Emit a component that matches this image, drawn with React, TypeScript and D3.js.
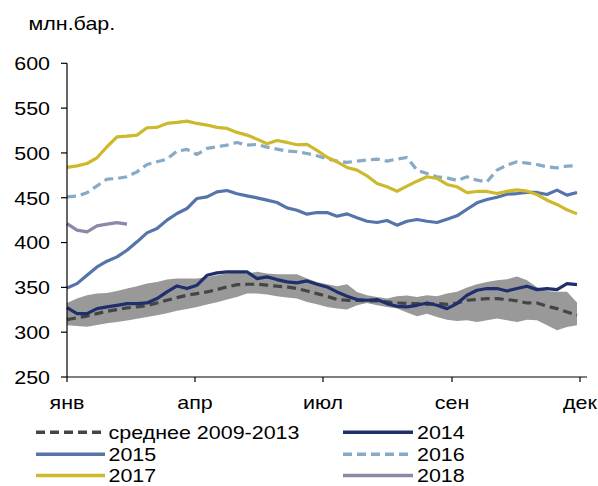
import React from "react";
import * as d3 from "d3";

const avg0913 = [314, 316, 318, 320.7, 323.3, 325.2, 327.1, 328.2, 329.7, 332.6, 335.6, 338.6, 341.2, 343.1, 344.9, 347.5, 350.5, 353, 353.5, 353.5, 352.5, 351.3, 350.5, 348.7, 346, 343, 340, 336.5, 335.6, 335.6, 335, 335, 333.8, 332.6, 332, 332, 331, 332, 331, 332.6, 335.6, 336.4, 337.5, 337.5, 336.4, 335, 332.6, 332.6, 329, 326.3, 322.6, 319];
const bandUpper = [332.6, 337.5, 341.2, 343.1, 343.8, 346.0, 348.7, 351.3, 354.2, 356.1, 358.7, 359.8, 359.8, 359.8, 361.7, 363.5, 365.4, 367.3, 365.4, 367.3, 365.4, 364.7, 364.7, 364.7, 359.8, 356.1, 353.5, 351.3, 353.5, 344.9, 341.2, 339.3, 337.5, 340.1, 341, 339.3, 341.2, 340.1, 343.1, 345.0, 349.8, 353.5, 356.1, 358.0, 359, 362, 358, 350, 346, 345, 345, 333];
const bandLower = [307.7, 307, 306, 308, 310, 311.5, 313, 315, 317, 319, 321, 324, 326, 328, 331, 333.5, 336.4, 339.3, 343.1, 343.1, 342, 340.1, 338.6, 337.5, 333.8, 331.2, 328.2, 326.3, 325.2, 330, 332.6, 330, 328.2, 326.3, 322, 317.8, 320.7, 317, 314, 312.5, 313.3, 311.4, 313.3, 315.2, 313.3, 311.4, 314, 313.3, 307.7, 302.1, 305.8, 307.7];
const s2014 = [327.4, 320.7, 320.7, 326.3, 328.2, 330.0, 331.9, 331.9, 332.6, 337.5, 344.9, 351.6, 348.7, 352.4, 363.5, 366.2, 367.3, 367.3, 367.3, 359.8, 361.7, 358.7, 356.1, 355.0, 357.2, 353.5, 350.5, 344.9, 340.1, 336.4, 335.6, 336.4, 331.9, 328.9, 328.2, 330.0, 332.6, 330.0, 326.3, 331.9, 341.2, 346.8, 348.7, 348.7, 346.0, 348.7, 351.3, 347.5, 348.7, 347.5, 354.2, 353.1];
const s2015 = [349.4, 354.2, 363.5, 372.8, 379.2, 384.0, 391.4, 400.8, 410.8, 415.6, 425.0, 432.4, 438.0, 449.2, 451.0, 456.6, 458.1, 454.4, 452.1, 449.9, 447.3, 444.7, 438.7, 436.1, 431.7, 433.5, 433.5, 429.4, 432.0, 427.6, 423.8, 422.4, 424.6, 419.4, 423.8, 425.7, 423.8, 422.4, 426.1, 429.8, 437.2, 444.3, 448.0, 450.6, 454.0, 454.7, 455.9, 455.9, 453.6, 458.5, 452.9, 455.9];
const s2016 = [451.0, 451.8, 455.5, 463.3, 470.7, 471.5, 473.4, 478.9, 487.1, 490.1, 493.1, 502.0, 503.9, 498.3, 505.0, 506.9, 508.7, 511.7, 508.7, 509.5, 506.5, 504.3, 502.0, 501.3, 499.4, 496.8, 493.5, 490.9, 489.4, 490.9, 492.0, 493.1, 490.9, 493.1, 494.9, 480.8, 477.1, 473.4, 472.2, 469.3, 473.4, 469.6, 467.8, 480.8, 486.4, 490.1, 488.6, 487.1, 484.5, 483.4, 485.3, 485.6];
const s2017 = [483.8, 485.6, 488.2, 494.6, 506.9, 518.0, 518.8, 519.9, 528.1, 528.5, 532.9, 534.0, 535.5, 532.9, 531.1, 528.5, 527.3, 522.9, 519.9, 515.4, 510.2, 513.9, 511.7, 509.1, 509.5, 502.8, 495.2, 490.1, 483.8, 480.8, 474.5, 465.9, 462.2, 457.3, 462.9, 468.5, 473.4, 471.5, 464.8, 462.2, 455.8, 457.0, 457.0, 454.7, 457.3, 458.8, 457.3, 453.6, 447.3, 442.5, 436.5, 432.0];
const s2018 = [421.2, 413.8, 411.9, 418.6, 420.5, 422.3, 420.5];

const yTicks = [250, 300, 350, 400, 450, 500, 550, 600];
const xTickWeeks = [0, 12.8, 25.6, 38.5, 51.3];
const xTickLabels = ["янв", "апр", "июл", "сен", "дек"];

const FONT = "'Liberation Sans', Arial, sans-serif";
const FS = 19;
const SX = 1.13;

function T({ x, y, anchor, children }: { x: number; y: number; anchor?: string; children: any }) {
  return (
    <text
      transform={`translate(${x},${y}) scale(${SX},1)`}
      textAnchor={anchor || "start"}
      fontSize={FS}
      fill="#000"
    >
      {children}
    </text>
  );
}

export default function App() {
  const x = d3.scaleLinear().domain([0, 52]).range([67, 587]);
  const y = d3.scaleLinear().domain([250, 600]).range([377, 63.3]);

  const line = d3
    .line<number>()
    .x((_, i) => x(i))
    .y((d) => y(d));
  const area = d3
    .area<number>()
    .x((_, i) => x(i))
    .y0((_, i) => y(bandLower[i]))
    .y1((d) => y(d));

  const series = [
    { name: "среднее 2009-2013", data: avg0913, color: "#454545", dash: "9,5" },
    { name: "2014", data: s2014, color: "#1f2f6e", dash: null },
    { name: "2015", data: s2015, color: "#5474aa", dash: null },
    { name: "2016", data: s2016, color: "#87aac6", dash: "9,5" },
    { name: "2017", data: s2017, color: "#cdb92c", dash: null },
    { name: "2018", data: s2018, color: "#8a8aa8", dash: null },
  ];

  const legendRows = [432.3, 454.3, 475.5];
  const legendCols = [
    { x1: 36, x2: 105, tx: 108.5 },
    { x1: 343, x2: 413, tx: 417 },
  ];

  return (
    <svg
      width={598}
      height={486}
      style={{ position: "absolute", left: 0, top: 0, background: "#fff" }}
      fontFamily={FONT}
    >
      <T x={28.5} y={29.5}>млн.бар.</T>

      <path d={area(bandUpper) || ""} fill="#999999" stroke="none" />

      {series.map((s) => (
        <path
          key={s.name}
          d={line(s.data) || ""}
          fill="none"
          stroke={s.color}
          strokeWidth={3.2}
          strokeDasharray={s.dash || undefined}
          strokeLinejoin="round"
        />
      ))}

      {/* axes */}
      <line x1={67} x2={67} y1={63.3} y2={377} stroke="#000" strokeWidth={1.2} />
      <line x1={67} x2={587} y1={377} y2={377} stroke="#000" strokeWidth={1.2} />
      {yTicks.map((t) => (
        <g key={t}>
          <line x1={61} x2={67} y1={y(t)} y2={y(t)} stroke="#000" strokeWidth={1.2} />
          <T x={50} y={y(t) + 6.8} anchor="end">
            {t}
          </T>
        </g>
      ))}
      {xTickWeeks.map((w, i) => (
        <g key={i}>
          <line x1={x(w)} x2={x(w)} y1={377} y2={382} stroke="#000" strokeWidth={1.2} />
          <T x={x(w)} y={409} anchor="middle">
            {xTickLabels[i]}
          </T>
        </g>
      ))}

      {/* legend */}
      {series.map((s, i) => {
        const row = legendRows[Math.floor(i / 2)];
        const col = legendCols[i % 2];
        return (
          <g key={"lg" + s.name}>
            <line
              x1={col.x1}
              x2={col.x2}
              y1={row}
              y2={row}
              stroke={s.color}
              strokeWidth={3.5}
              strokeDasharray={s.dash || undefined}
            />
            <T x={col.tx} y={row + 6.5}>
              {s.name}
            </T>
          </g>
        );
      })}
    </svg>
  );
}
